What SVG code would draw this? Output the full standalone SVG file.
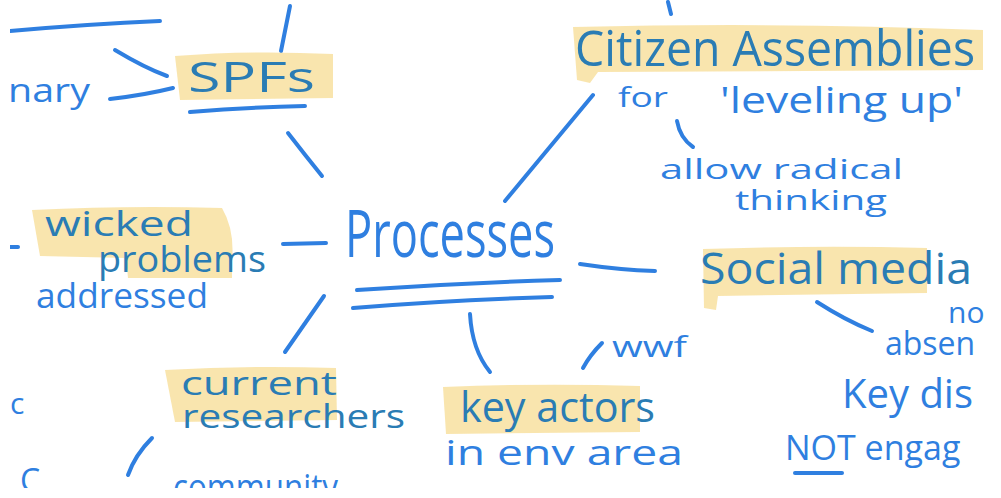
<svg xmlns="http://www.w3.org/2000/svg" width="1001" height="498" viewBox="0 0 1001 498">
<style>
.ln{fill:none;stroke:#2f7fe0;stroke-width:4;stroke-linecap:round;stroke-linejoin:round}
.t{font-family:"Open Sans","Liberation Sans",sans-serif;fill:#2f7fe0}
.th{font-family:"Open Sans","Liberation Sans",sans-serif;fill:#2a7cb4}
.hl{fill:#f8e0a0;opacity:0.85}
</style>
<defs>
<clipPath id="frame"><rect x="10" y="0" width="991" height="488"/></clipPath>
</defs>
<rect width="1001" height="498" fill="#ffffff"/>
<g clip-path="url(#frame)">
<g id="connectors">
<path class="ln" d="M10 31 Q90 24 160 21"/>
<path class="ln" d="M281 51 L290 6"/>
<path class="ln" d="M115 50 Q145 68 167 76"/>
<path class="ln" d="M110 99 Q145 95 173 88"/>
<path class="ln" d="M190 112 Q250 107 305 106"/>
<path class="ln" d="M288 133 Q305 155 322 176"/>
<path class="ln" d="M505 201 L593 95"/>
<path class="ln" d="M668 2 L671 14"/>
<path class="ln" d="M677 121 Q680 138 693 147"/>
<path class="ln" d="M283 244 L326 243"/>
<path class="ln" d="M10 247 L18 247"/>
<path class="ln" d="M357 290 Q460 283 560 280"/>
<path class="ln" d="M353 308 Q450 300 552 297"/>
<path class="ln" d="M580 264 Q620 270 655 271"/>
<path class="ln" d="M817 302 Q845 320 872 331"/>
<path class="ln" d="M795 473 L842 473"/>
<path class="ln" d="M324 296 L285 352"/>
<path class="ln" d="M470 314 Q472 350 490 372"/>
<path class="ln" d="M602 343 Q590 355 583 368"/>
<path class="ln" d="M152 438 Q135 455 128 475"/>
</g>
<g id="spfs">
<path class="hl" d="M175 56 Q250 50 333 54 L333 98 L180 100 Z"/>
<text class="th" x="188" y="92" font-size="42" textLength="127" lengthAdjust="spacingAndGlyphs">SPFs</text>
</g>
<g id="nary">
<text class="t" x="8" y="102" font-size="32" textLength="82" lengthAdjust="spacingAndGlyphs">nary</text>
</g>
<g id="processes">
<text class="t" x="345" y="257" font-size="66" textLength="210" lengthAdjust="spacingAndGlyphs">Processes</text>
</g>
<g id="citizen-assemblies">
<path class="hl" d="M573 27 Q780 22 983 30 L983 70 L598 72 L590 83 L577 80 Z"/>
<text class="th" x="575" y="66" font-size="50" textLength="400" lengthAdjust="spacingAndGlyphs">Citizen Assemblies</text>
<text class="t" x="618" y="107" font-size="28" textLength="50" lengthAdjust="spacingAndGlyphs">for</text>
<text class="t" x="720" y="113" font-size="36" textLength="243" lengthAdjust="spacingAndGlyphs">'leveling up'</text>
<text class="t" x="660" y="179" font-size="28" textLength="243" lengthAdjust="spacingAndGlyphs">allow radical</text>
<text class="t" x="735" y="210" font-size="28" textLength="152" lengthAdjust="spacingAndGlyphs">thinking</text>
</g>
<g id="social-media">
<path class="hl" d="M703 249 Q820 245 927 248 L927 293 L718 296 L716 310 L704 308 Z"/>
<text class="th" x="700" y="284" font-size="44" textLength="272" lengthAdjust="spacingAndGlyphs">Social media</text>
<text class="t" x="948" y="323" font-size="30">no</text>
<text class="t" x="885" y="355" font-size="32">absen</text>
<text class="t" x="842" y="408" font-size="40">Key dis</text>
<text class="t" x="785" y="460" font-size="34">NOT engag</text>
</g>
<g id="wicked-problems">
<path class="hl" d="M32 210 Q130 205 222 208 Q235 230 232 262 L232 278 L128 278 L126 258 L40 256 Z"/>
<text class="th" x="45" y="236" font-size="34" textLength="148" lengthAdjust="spacingAndGlyphs">wicked</text>
<text class="th" x="98" y="272" font-size="36" textLength="168" lengthAdjust="spacingAndGlyphs">problems</text>
<text class="t" x="36" y="308" font-size="34" textLength="172" lengthAdjust="spacingAndGlyphs">addressed</text>
</g>
<g id="current-researchers">
<path class="hl" d="M165 370 Q250 365 336 368 L337 420 L175 422 Z"/>
<text class="th" x="181" y="395" font-size="32" textLength="156" lengthAdjust="spacingAndGlyphs">current</text>
<text class="th" x="182" y="428" font-size="32" textLength="223" lengthAdjust="spacingAndGlyphs">researchers</text>
</g>
<g id="key-actors">
<path class="hl" d="M443 387 Q540 383 640 386 L640 432 L446 434 Z"/>
<text class="th" x="460" y="422" font-size="42" textLength="195" lengthAdjust="spacingAndGlyphs">key actors</text>
<text class="t" x="612" y="357" font-size="30" textLength="75" lengthAdjust="spacingAndGlyphs">wwf</text>
<text class="t" x="445" y="465" font-size="34" textLength="238" lengthAdjust="spacingAndGlyphs">in env area</text>
</g>
<g id="left-fragments">
<text class="t" x="10" y="414" font-size="30">c</text>
<text class="t" x="20" y="492" font-size="32">C</text>
<text class="t" x="173" y="500" font-size="36" textLength="165" lengthAdjust="spacingAndGlyphs">community</text>
</g>
</g>
</svg>
